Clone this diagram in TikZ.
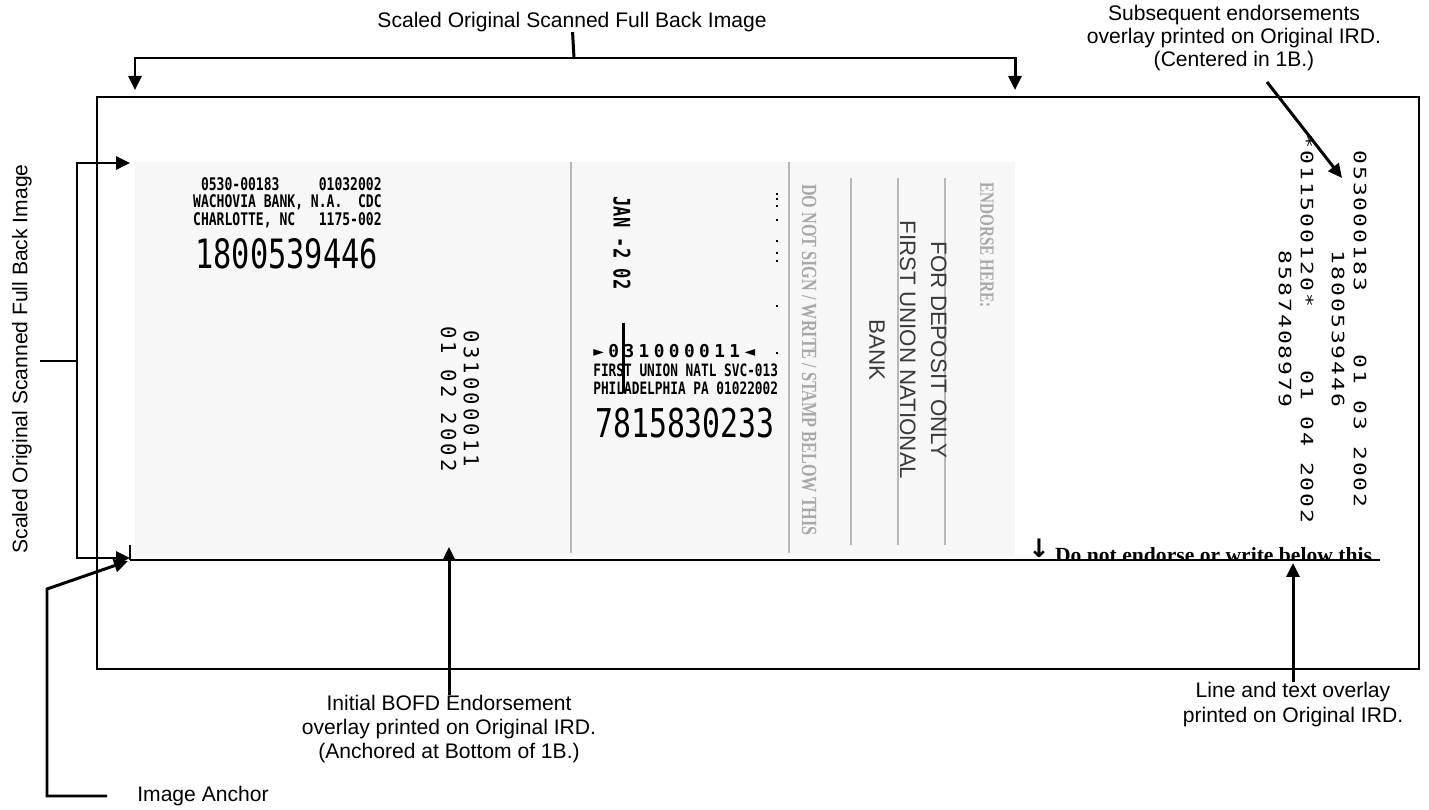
\documentclass[tikz,border=0pt]{standalone}
\usepackage{fontspec}
\setmainfont{Liberation Sans}
\newfontfamily\timesfont{Liberation Serif}
\newfontfamily\arrowfont{DejaVu Sans}
\newfontfamily\graytimes{Liberation Serif}[FakeStretch=0.75]
\newfontfamily\stampfont{DejaVu Sans Mono}[FakeStretch=0.75]
\newfontfamily\ocrfont{DejaVu Sans Mono}[LetterSpace=15]
\newfontfamily\ocrwide{DejaVu Sans Mono}[FakeStretch=1.35,LetterSpace=12]
\newfontfamily\micrfont{DejaVu Sans Mono}[LetterSpace=25]
\usetikzlibrary{arrows.meta}
\definecolor{chkgray}{HTML}{F7F7F7}
\definecolor{rulegray}{HTML}{B8B8B8}
\definecolor{inkgray}{HTML}{A8A8A8}
\definecolor{depgray}{HTML}{3A3A3A}

\begin{document}
\begin{tikzpicture}[x=0.02cm, y=-0.02cm, lab/.style={inner sep=0pt, align=center, font=\fontsize{12}{13.6}\selectfont}, n/.style={line width=1.7pt, -{Triangle[length=2.8mm, width=2.6mm]}}, b/.style={line width=1.7pt}, frame/.style={line width=0.8pt}, sep/.style={rulegray, line width=1.1pt}, ocr/.style={inner sep=0pt, rotate=-90, align=center}, stampbox/.style={inner sep=0pt}]
            \useasboundingbox (0,0) rectangle (1429,810);
            % IRD and scanned image
            \draw[frame] (97,97) rectangle (1419,669);
            \fill[chkgray] (135,162) rectangle (1015,557);
            \draw[sep] (571,162) -- (571,553);
            \draw[sep] (789,162) -- (789,553);
            \draw[sep] (851,178) -- (851,545);
            \draw[sep] (898,178) -- (898,545);
            \draw[sep] (945,178) -- (945,545);
            % stamps on the scanned image
            \node[stampbox, anchor=north east, align=right, font=\stampfont\bfseries\fontsize{9.9}{9.9}\selectfont] (wach) at (382,177) {0530-00183~~~~~01032002\\WACHOVIA BANK, N.A.~~CDC\\CHARLOTTE, NC~~~1175-002};
            \node[stampbox, anchor=north west, font=\stampfont\fontsize{23}{23}\selectfont] (acct1) at (195,238) {1800539446};
            \node[ocr, font=\ocrfont\fontsize{11.7}{13}\selectfont] (bofd) at (460,399) {031000011\\01 02 2002};
            \node[ocr, font=\stampfont\bfseries\fontsize{13}{13}\selectfont] (jan) at (622,243) {JAN -2 02};
            \node[stampbox, anchor=north west, font=\micrfont\bfseries\fontsize{10.1}{10}\selectfont] (micr) at (593,344) {►031000011◄};
            \node[stampbox, anchor=north west, align=left, font=\stampfont\bfseries\fontsize{9.7}{9.8}\selectfont] (fu) at (593,364) {FIRST UNION NATL SVC-013\\PHILADELPHIA PA 01022002};
            \node[stampbox, anchor=north west, font=\stampfont\fontsize{22.6}{23}\selectfont] (acct2) at (595,408) {7815830233};
            \draw[b] (623,323) -- (623,393);
            \foreach \y in {193,198,205,219,240,252,260,305,352}
                \fill (776,\y) rectangle (778,\y+2);
            \node[ocr, text=inkgray, font=\graytimes\bfseries\fontsize{12.3}{13}\selectfont] (nosign) at (809,360) {DO NOT SIGN / WRITE / STAMP BELOW THIS};
            \node[ocr, text=depgray, font=\fontsize{12.7}{17.6}\selectfont] (deposit) at (908,350) {FOR DEPOSIT ONLY\\FIRST UNION NATIONAL\\BANK};
            \node[ocr, anchor=west, text=inkgray, font=\graytimes\bfseries\fontsize{11.5}{12}\selectfont] (endorse) at (987,182) {ENDORSE HERE:};
            % overlays printed on the IRD
            \node[ocr, font=\ocrwide\fontsize{9.7}{12.5}\selectfont] (subs1) at (1349,329) {053000183~~~~01 03 2002\\1800539446};
            \node[ocr, font=\ocrwide\fontsize{9.7}{12.5}\selectfont] (subs2) at (1296,329) {*011500120*~~~~01 04 2002\\8587408979};
            \begin{scope}
                \clip (1020,530) rectangle (1385,560);
                \node[stampbox, anchor=base west, font=\timesfont\bfseries\fontsize{12.3}{14}\selectfont] (nowrite) at (1028,562) {\raisebox{2.5pt}{\arrowfont\bfseries\fontsize{14.5}{14}\selectfont ↓} Do not endorse or write below this};
            \end{scope}
            \draw[frame] (130,560) -- (1380,560);
            \draw[frame] (130,545) -- (130,560);
            % labels
            \node[lab] (topl) at (572,22) {Scaled Original Scanned Full Back Image};
            \node[lab, rotate=90] (leftl) at (22,359) {Scaled Original Scanned Full Back Image};
            \node[lab, font=\fontsize{12}{13}\selectfont] (subl) at (1234,38) {Subsequent endorsements\\overlay printed on Original IRD.\\(Centered in 1B.)};
            \node[lab] (bofdl) at (449,729) {Initial BOFD Endorsement\\overlay printed on Original IRD.\\(Anchored at Bottom of 1B.)};
            \node[lab, font=\fontsize{12}{14.2}\selectfont] (ovll) at (1293,705) {Line and text overlay\\printed on Original IRD.};
            \node[lab, anchor=west] (anchl) at (137,796) {Image Anchor};
            % coordinates
            \coordinate (tbmid) at (574,58);
            \coordinate (tipl) at (135,90);
            \coordinate (tipr) at (1015,90);
            \coordinate (lbmid) at (77,361);
            \coordinate (lbstub) at (40,361);
            \coordinate (imgtl) at (130,163);
            \coordinate (imgbl) at (130,558);
            \coordinate (anch) at (128,561);
            \coordinate (ia1) at (107,796);
            \coordinate (ia2) at (47,589);
            \coordinate (substart) at (1267,82);
            \coordinate (subtip) at (1342,178);
            \coordinate (bofdtip) at (449,547);
            \coordinate (ovltip) at (1293,563);
            % edges
            \draw[b] (topl) -- (tbmid);
            \draw[n] (tbmid) -| (tipl);
            \draw[n] (tbmid) -| (tipr);
            \draw[b] (lbstub) -- (lbmid);
            \draw[n] (lbmid) |- (imgtl);
            \draw[n] (lbmid) |- (imgbl);
            \draw[n] (ia1) -| (ia2) -- (anch);
            \draw[n] (substart) -- (subtip);
            \draw[n] (bofdl) -- (bofdtip);
            \draw[n] (ovll) -- (ovltip);
        \end{tikzpicture}
\end{document}
